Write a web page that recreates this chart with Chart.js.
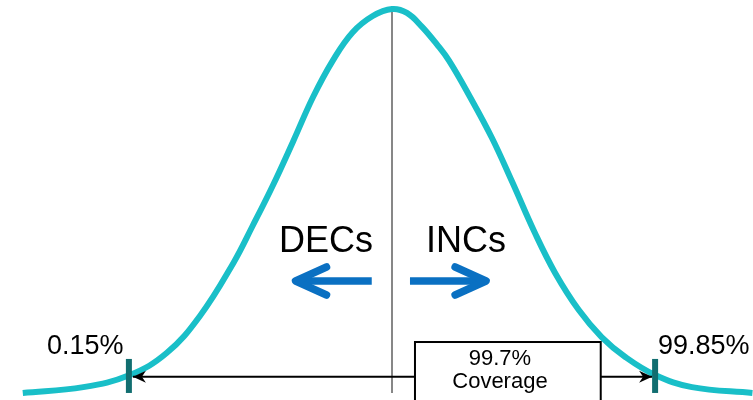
<!DOCTYPE html>
<html>
<head>
<meta charset="utf-8">
<script src="https://cdn.jsdelivr.net/npm/chart.js@4"></script>
<style>
html,body{margin:0;padding:0;background:#fff;}
#wrap{width:753px;height:400px;position:relative;}
</style>
</head>
<body>
<div id="wrap"><canvas id="c" width="753" height="400"></canvas></div>
<script>
// Curve: x in standard deviations, height relative to peak
const xSigma = [-4.21, -3.52, -2.99, -2.57, -2.19, -1.81, -1.59, -1.36, -1.13, -0.90, -0.67, -0.45, -0.22, 0, 0.17, 0.34, 0.51, 0.65, 0.89, 1.14, 1.37, 1.63, 1.86, 2.13, 2.39, 2.66, 3.00, 3.42, 4.11];
const heights = [0.018, 0.033, 0.064, 0.120, 0.215, 0.350, 0.445, 0.548, 0.660, 0.775, 0.870, 0.940, 0.982, 1.0, 0.990, 0.955, 0.910, 0.868, 0.775, 0.670, 0.558, 0.427, 0.325, 0.230, 0.161, 0.110, 0.064, 0.033, 0.018];
const limitSigma = [-3, 3];
const limitLabels = ['0.15%', '99.85%'];
const coverageLabel = ['99.7%', 'Coverage'];
const directionLabels = ['DECs', 'INCs'];

const FONT = '"Liberation Sans", Arial, sans-serif';

const overlay = {
  id: 'overlay',
  afterDatasetsDraw(chart) {
    const {ctx, scales: {x, y}} = chart;
    const X = v => x.getPixelForValue(v);
    const Y = v => y.getPixelForValue(v);
    ctx.save();

    // center line
    ctx.strokeStyle = '#7a7a7a';
    ctx.lineWidth = 1.8;
    ctx.beginPath();
    ctx.moveTo(X(0), Y(0.992));
    ctx.lineTo(X(0), Y(0.018));
    ctx.stroke();

    // coverage arrow line
    const ay = Y(0.0596);
    const lx = X(limitSigma[0]) + 4, rx = X(limitSigma[1]) - 3;
    ctx.strokeStyle = '#000';
    ctx.lineWidth = 2;
    ctx.beginPath();
    ctx.moveTo(lx, ay); ctx.lineTo(rx, ay);
    ctx.stroke();
    ctx.fillStyle = '#000';
    ctx.beginPath();
    ctx.moveTo(lx, ay); ctx.lineTo(lx + 13, ay - 6); ctx.lineTo(lx + 9, ay); ctx.lineTo(lx + 13, ay + 6); ctx.closePath();
    ctx.fill();
    ctx.beginPath();
    ctx.moveTo(rx, ay); ctx.lineTo(rx - 13, ay - 6); ctx.lineTo(rx - 9, ay); ctx.lineTo(rx - 13, ay + 6); ctx.closePath();
    ctx.fill();

    // coverage box
    const bx0 = X(0.262), bx1 = X(2.38), by0 = Y(0.1483);
    ctx.fillStyle = '#fff';
    ctx.fillRect(bx0, by0, bx1 - bx0, 80);
    ctx.strokeStyle = '#000';
    ctx.lineWidth = 2;
    ctx.strokeRect(bx0, by0, bx1 - bx0, 80);
    ctx.fillStyle = '#000';
    ctx.font = '22px ' + FONT;
    ctx.textAlign = 'center';
    ctx.textBaseline = 'alphabetic';
    ctx.fillText(coverageLabel[0], X(1.231), Y(0.0895));
    ctx.fillText(coverageLabel[1], X(1.231), Y(0.0307));

    // limit ticks
    ctx.strokeStyle = '#116E70';
    ctx.lineWidth = 6;
    limitSigma.forEach(s => {
      ctx.beginPath();
      ctx.moveTo(X(s), Y(0.105));
      ctx.lineTo(X(s), Y(0.018));
      ctx.stroke();
    });

    // limit labels
    ctx.fillStyle = '#000';
    ctx.font = '27px ' + FONT;
    ctx.textAlign = 'left';
    ctx.fillText(limitLabels[0], X(-3.934), Y(0.1176));
    ctx.fillText(limitLabels[1], X(3.033), Y(0.1176));

    // direction labels
    ctx.font = '36px ' + FONT;
    ctx.textAlign = 'right';
    ctx.fillText(directionLabels[0], X(-0.217), Y(0.3785));
    ctx.textAlign = 'left';
    ctx.fillText(directionLabels[1], X(0.388), Y(0.3785));

    // blue arrows
    ctx.strokeStyle = '#0A70C2';
    ctx.lineWidth = 7.5;
    ctx.lineJoin = 'round';
    const by = Y(0.3043);
    const drawArrow = (from, to) => {
      const fx = X(from), tx = X(to);
      const dir = Math.sign(tx - fx);
      ctx.lineCap = 'butt';
      ctx.beginPath();
      ctx.moveTo(fx, by); ctx.lineTo(tx - dir * 3, by);
      ctx.stroke();
      ctx.lineCap = 'round';
      ctx.beginPath();
      ctx.moveTo(tx - dir * 31, by - 14);
      ctx.lineTo(tx, by);
      ctx.lineTo(tx - dir * 31, by + 14);
      ctx.stroke();
    };
    drawArrow(-0.231, -1.10);
    drawArrow(0.205, 1.073);

    ctx.restore();
  }
};

new Chart(document.getElementById('c'), {
  type: 'line',
  data: {
    datasets: [{
      data: xSigma.map((s, i) => ({x: s, y: heights[i]})),
      borderColor: '#19BFC8',
      borderWidth: 6,
      pointRadius: 0,
      fill: false,
      tension: 0.4,
      clip: false
    }]
  },
  options: {
    responsive: false,
    animation: false,
    layout: {padding: 0},
    plugins: {legend: {display: false}, tooltip: {enabled: false}},
    scales: {
      x: {type: 'linear', display: false, min: -4.4698, max: 4.1163},
      y: {type: 'linear', display: false, min: 0, max: 1.0230}
    }
  },
  plugins: [overlay]
});
</script>
</body>
</html>
